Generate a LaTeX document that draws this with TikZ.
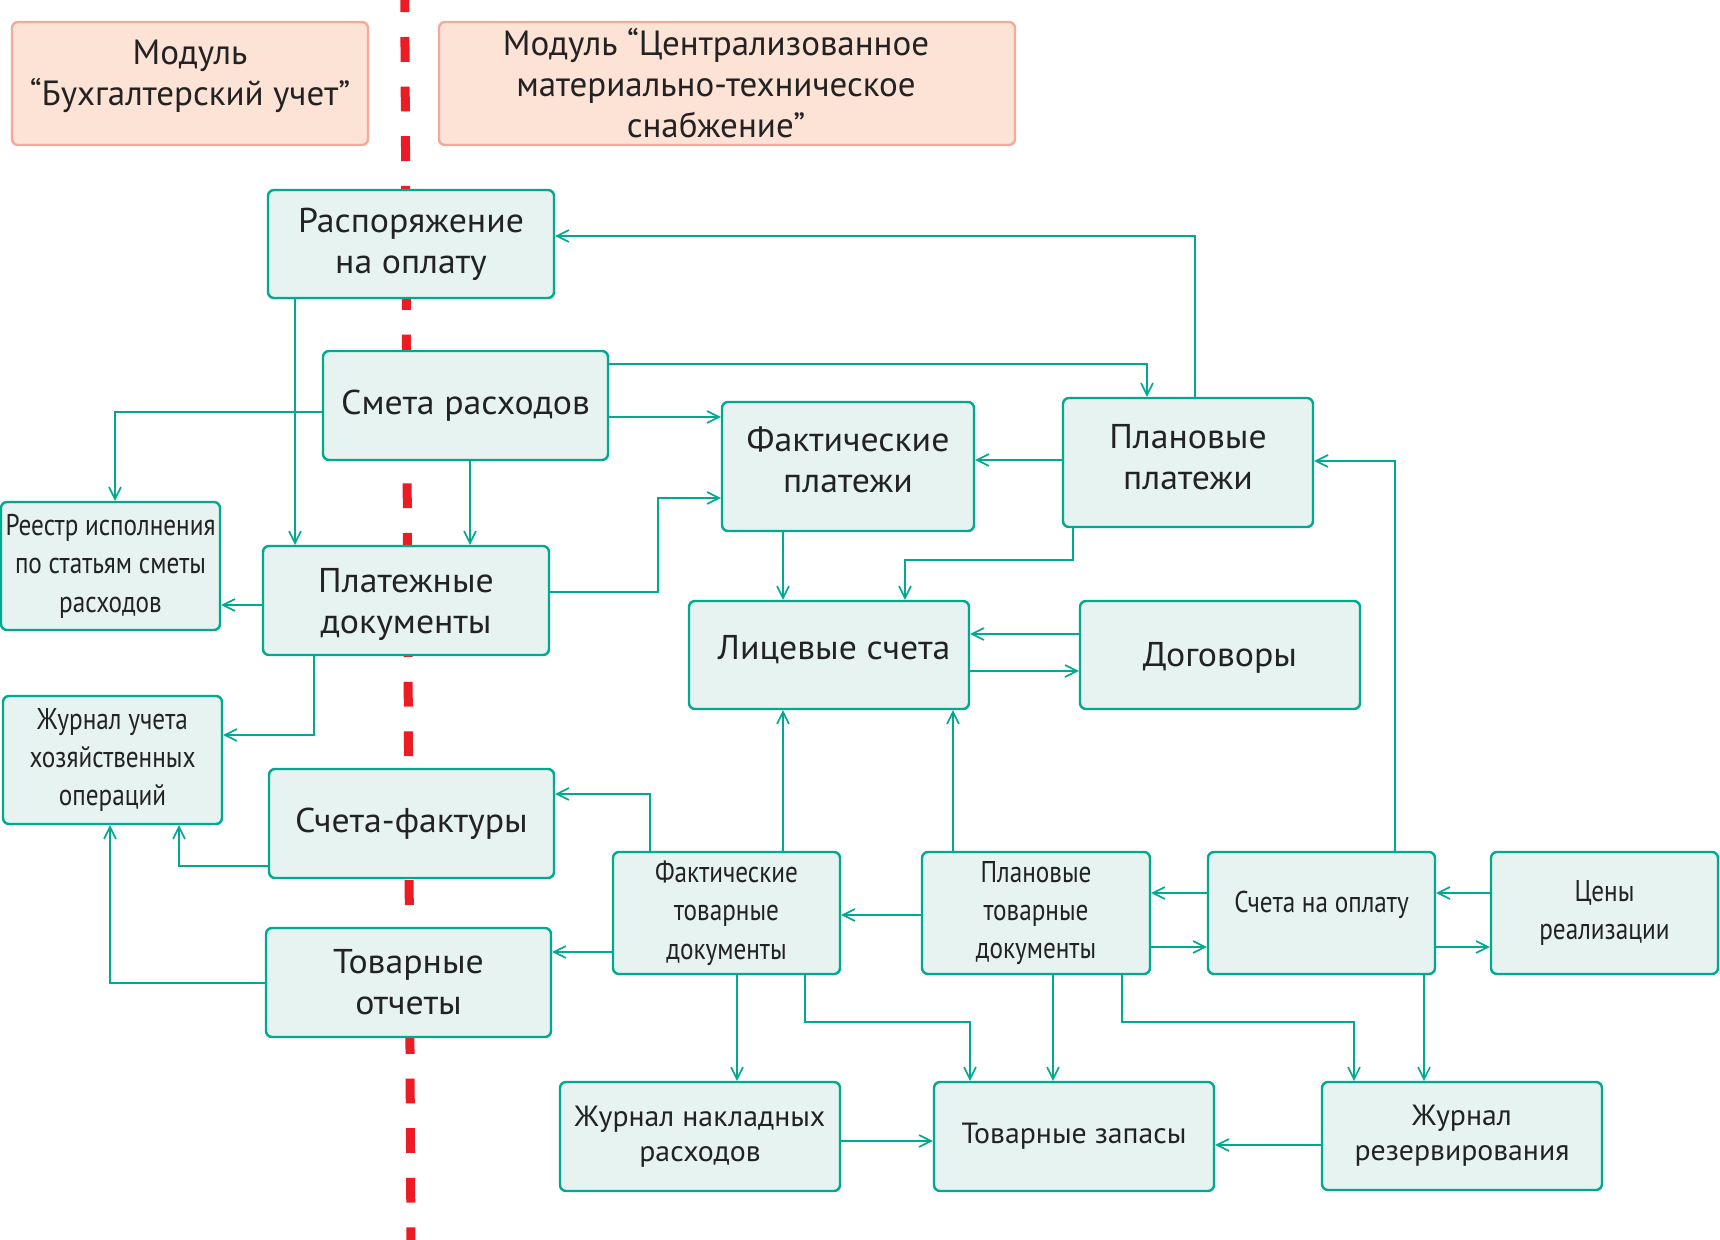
\documentclass[tikz,border=0pt]{standalone}
\usepackage{fontspec}
\setmainfont{PT Sans}
\newfontfamily\condf[FakeStretch=0.84]{PT Sans}
\newfontfamily\bigf[FakeStretch=1.04]{PT Sans}
\newfontfamily\midf[FakeStretch=1.02]{PT Sans}
\usetikzlibrary{arrows.meta}
\definecolor{teal1}{HTML}{00A98F}
\definecolor{boxfill}{HTML}{E6F3F0}
\definecolor{modfill}{HTML}{FDE2D6}
\definecolor{moddraw}{HTML}{F4A999}
\definecolor{redl}{HTML}{EC1C24}
\definecolor{txtc}{HTML}{222222}
\tikzset{
  box/.style={draw=teal1, fill=boxfill, rounded corners=3pt, line width=1.2pt, inner sep=0pt},
  mod/.style={draw=moddraw, fill=modfill, rounded corners=3pt, line width=1.2pt, inner sep=0pt},
  bigtxt/.style={align=center, text=txtc, inner sep=0pt, font=\bigf\fontsize{17.2}{20.5}\selectfont},
  midtxt/.style={align=center, text=txtc, inner sep=0pt, font=\midf\fontsize{14.6}{17.5}\selectfont},
  condtxt/.style={align=center, text=txtc, inner sep=0pt, font=\condf\fontsize{15}{19.2}\selectfont},
  modtxt/.style={align=center, text=txtc, inner sep=0pt, font=\fontsize{17.5}{20.5}\selectfont},
  arr/.style={draw=teal1, line width=0.8pt, -{Straight Barb[length=6pt,width=6pt,line width=0.8pt]}},
  redline/.style={draw=redl, line width=4.5pt, dash pattern=on 12.4pt off 12.4pt}
}
% #1 text node options (shift), #2 name, #3 box style, #4 text style, #5-#8 x1 y1 x2 y2, #9 text
\newcommand\bx[9][]{%
  \node[#3, minimum width={(#7-#5)*0.5pt}, minimum height={(#8-#6)*0.5pt}] (#2) at ({(#5+#7)/2},{(#6+#8)/2}) {};
  \node[#4, #1] (#2-t) at (#2.center) {#9};}
\begin{document}
\begin{tikzpicture}[x=0.5pt, y=-0.5pt]
\useasboundingbox (0,0) rectangle (1720,1240);
\fill[white] (0,0) rectangle (1720,1240);
\coordinate (rtop) at (404.7,-12.6);
\coordinate (rbot) at (411,1250);
\draw[redline] (rtop) -- (rbot);

\bx[yshift=3.5pt]{mod1}{mod}{modtxt}{12}{22}{368}{145}{Модуль\\“Бухгалтерский учет”}
\bx[xshift=-5.5pt]{mod2}{mod}{modtxt}{439}{22}{1015}{145}{Модуль “Централизованное\\материально-техническое\\снабжение”}
\bx{rasp}{box}{bigtxt}{268}{190}{554}{298}{Распоряжение\\на оплату}
\bx{smeta}{box}{bigtxt}{323}{351}{608}{460}{Смета расходов}
\bx{reestr}{box}{condtxt}{1}{502}{220}{630}{Реестр исполнения\\по статьям сметы\\расходов}
\bx[yshift=-2pt]{pd}{box}{bigtxt}{263}{546}{549}{655}{Платежные\\документы}
\bx{jzuchet}{box}{condtxt}{3}{696}{222}{824}{Журнал учета\\хозяйственных\\операций}
\bx{sf}{box}{bigtxt}{269}{769}{554}{878}{Счета-фактуры}
\bx{to}{box}{bigtxt}{266}{928}{551}{1037}{Товарные\\отчеты}
\bx[yshift=3.5pt]{fp}{box}{bigtxt}{722}{402}{974}{531}{Фактические\\платежи}
\bx[yshift=2.5pt]{pp}{box}{bigtxt}{1063}{398}{1313}{527}{Плановые\\платежи}
\bx[yshift=2.5pt, xshift=2.5pt]{lic}{box}{bigtxt}{689}{601}{969}{709}{Лицевые счета}
\bx[yshift=-1.5pt]{dog}{box}{bigtxt}{1080}{601}{1360}{709}{Договоры}
\bx{ftd}{box}{condtxt}{613}{852}{840}{974}{Фактические\\товарные\\документы}
\bx{ptd}{box}{condtxt}{922}{852}{1150}{974}{Плановые\\товарные\\документы}
\bx[yshift=4pt]{sno}{box}{condtxt}{1208}{852}{1435}{974}{Счета на оплату}
\bx{ceny}{box}{condtxt}{1491}{852}{1718}{974}{Цены\\реализации}
\bx{jn}{box}{midtxt}{560}{1082}{840}{1191}{Журнал накладных\\расходов}
\bx{tz}{box}{midtxt}{934}{1082}{1214}{1191}{Товарные запасы}
\bx{jr}{box}{midtxt}{1322}{1082}{1602}{1190}{Журнал\\резервирования}

% connectors
\draw[arr] (pp.north -| 1195,0) |- (rasp.east |- 0,236);
\draw[arr] (rasp.south -| 295,0) -- (pd.north -| 295,0);
\draw[arr] (smeta.east |- 0,364) -| (pp.north -| 1147,0);
\draw[arr] (smeta.east |- 0,417) -- (fp.west |- 0,417);
\draw[arr] (smeta.west |- 0,412) -| (reestr.north -| 115,0);
\draw[arr] (smeta.south -| 470,0) -- (pd.north -| 470,0);
\draw[arr] (pd.east |- 0,592) -| (658,498) -- (fp.west |- 0,498);
\draw[arr] (pd.west |- 0,605) -- (reestr.east |- 0,605);
\draw[arr] (pd.south -| 314,0) |- (jzuchet.east |- 0,735);
\draw[arr] (pp.west |- 0,460) -- (fp.east |- 0,460);
\draw[arr] (fp.south -| 783,0) -- (lic.north -| 783,0);
\draw[arr] (pp.south -| 1073,0) |- (905,560) -- (lic.north -| 905,0);
\draw[arr] (dog.west |- 0,634) -- (lic.east |- 0,634);
\draw[arr] (lic.east |- 0,671) -- (dog.west |- 0,671);
\draw[arr] (ftd.north -| 783,0) -- (lic.south -| 783,0);
\draw[arr] (ptd.north -| 953,0) -- (lic.south -| 953,0);
\draw[arr] (sno.north -| 1395,0) |- (pp.east |- 0,461);
\draw[arr] (ftd.north -| 650,0) |- (sf.east |- 0,794);
\draw[arr] (sf.west |- 0,866) -| (jzuchet.south -| 179,0);
\draw[arr] (to.west |- 0,983) -| (jzuchet.south -| 110,0);
\draw[arr] (ftd.west |- 0,952) -- (to.east |- 0,952);
\draw[arr] (ptd.west |- 0,915) -- (ftd.east |- 0,915);
\draw[arr] (sno.west |- 0,893) -- (ptd.east |- 0,893);
\draw[arr] (ptd.east |- 0,947) -- (sno.west |- 0,947);
\draw[arr] (ceny.west |- 0,893) -- (sno.east |- 0,893);
\draw[arr] (sno.east |- 0,947) -- (ceny.west |- 0,947);
\draw[arr] (ftd.south -| 737,0) -- (jn.north -| 737,0);
\draw[arr] (ftd.south -| 805,0) |- (970,1022) -- (tz.north -| 970,0);
\draw[arr] (ptd.south -| 1053,0) -- (tz.north -| 1053,0);
\draw[arr] (ptd.south -| 1122,0) |- (1354,1022) -- (jr.north -| 1354,0);
\draw[arr] (sno.south -| 1424,0) -- (jr.north -| 1424,0);
\draw[arr] (jn.east |- 0,1141) -- (tz.west |- 0,1141);
\draw[arr] (jr.west |- 0,1145) -- (tz.east |- 0,1145);
\end{tikzpicture}
\end{document}
